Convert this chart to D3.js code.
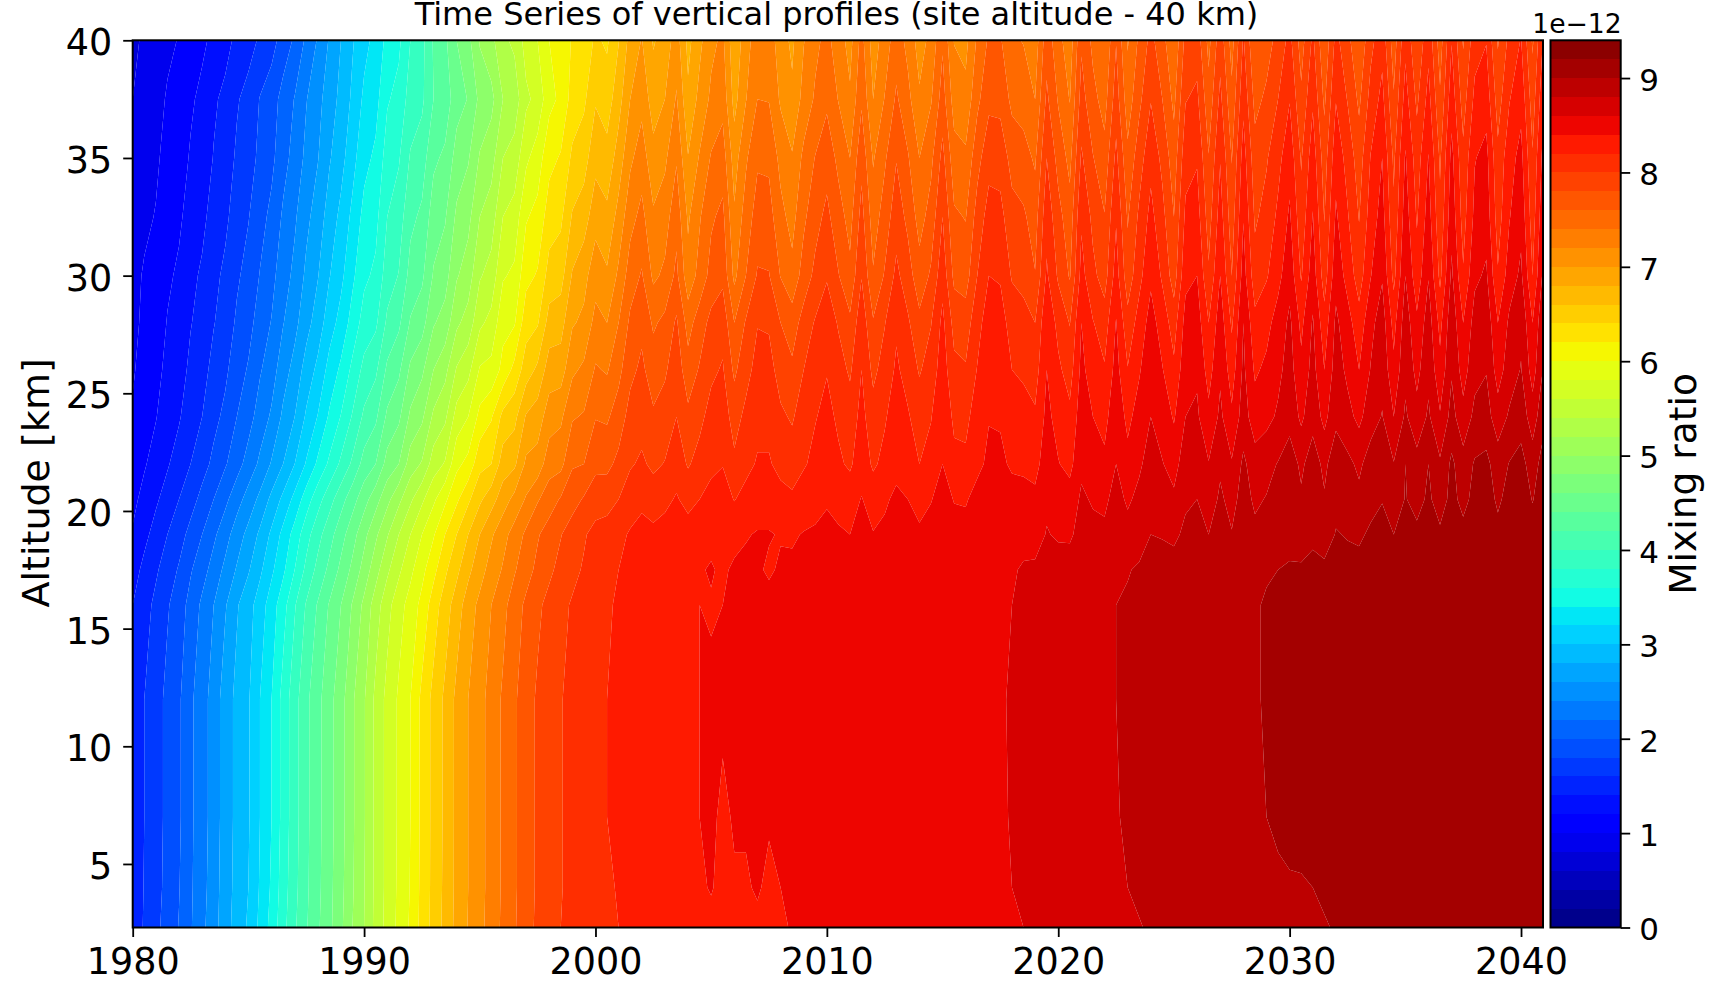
<!DOCTYPE html>
<html><head><meta charset="utf-8"><title>Time Series of vertical profiles</title>
<script src="https://cdnjs.cloudflare.com/ajax/libs/d3/7.8.5/d3.min.js"></script>
<style>html,body{margin:0;padding:0;background:#fff}svg{display:block}text{font-family:"DejaVu Sans";fill:#000}</style>
</head><body><svg id="c" width="1713" height="982"></svg>
<script>
// Mixing ratio, in units of 1e-14; one value per half year, 1980.0 to 2041.0
const altitudes=[2.3,4,7,12,16,17.5,19,20.5,22,24,26,28,30,32.5,35,37.5,40];
const at2p3=[147,162,175,188,201,218,235,252,272,288,303,325,347,373,397,418,437,455,476,500,
520,546,567,585,603,627,647,666,686,701,714,729,744,758,772,784,793,800,805,810,
814,817,820,823,826,828,830,832,833,834,836,835,836,837,838,837,838,841,842,843,
843,844,845,845,846,847,847,848,848,849,850,851,852,853,854,855,857,860,862,864,
866,868,870,872,874,876,877,879,882,885,887,888,889,890,892,893,894,895,896,897,
898,899,899,899,901,903,904,904,905,905,906,906,907,907,908,908,909,909,910,910,
911,912,912];
const at4=[146,161,173,186,199,217,233,250,271,286,300,322,343,370,394,416,435,454,474,498,
519,545,566,584,601,626,646,665,685,700,713,728,743,757,771,783,792,799,805,810,
814,818,821,824,827,830,832,834,836,838,841,836,839,839,841,838,840,841,843,844,
845,846,847,848,849,850,851,852,853,853,854,855,855,856,857,858,860,862,864,866,
867,869,871,873,875,877,880,883,885,887,888,889,890,892,893,894,895,896,898,899,
899,899,900,902,903,904,904,905,905,906,906,907,907,908,908,909,909,910,910,911,
911,912,912];
const at7=[145,160,172,185,197,216,232,248,270,285,298,320,340,367,392,415,434,453,472,497,
518,545,566,583,600,625,646,664,685,700,713,728,743,757,771,783,792,799,805,810,
815,820,823,826,829,832,834,836,838,840,842,838,841,841,842,841,842,843,844,845,
846,847,848,849,850,851,852,853,854,854,855,855,856,857,857,858,861,862,864,866,
868,870,872,874,876,879,882,885,887,888,889,890,892,893,894,895,897,899,900,901,
903,904,904,905,905,906,906,907,907,908,908,909,909,910,910,911,911,912,912,913,
913,914,914];
const at12=[145,160,172,185,197,216,232,248,270,285,298,320,340,367,392,415,434,453,472,497,
518,545,566,583,600,625,646,664,685,700,713,728,743,757,771,783,792,799,805,810,
815,820,823,826,829,832,834,836,838,840,842,842,843,844,845,845,846,846,847,848,
849,849,850,851,851,852,853,853,854,854,855,855,856,857,857,859,861,862,864,866,
868,870,872,874,877,880,883,885,887,888,889,890,892,893,894,895,897,899,901,902,
903,904,904,905,905,906,906,907,907,908,908,909,909,910,910,911,911,912,912,913,
913,914,914];
const at16=[140,152,165,178,190,207,224,240,258,278,292,310,330,352,378,402,422,442,460,482,
505,530,553,572,588,606,630,650,670,690,705,720,734,750,764,776,786,795,802,808,
813,818,822,825,828,831,834,836,838,840,839,840,841,843,844,845,846,846,847,848,
849,849,850,851,851,852,852,853,854,854,855,855,856,856,857,858,860,862,864,866,
868,870,872,874,877,880,882,884,886,888,889,890,892,893,894,895,897,899,901,902,
903,904,904,905,905,906,906,907,907,908,908,909,909,910,910,911,911,912,912,913,
913,914,914];
const at17p5=[132,145,157,170,182,198,212,228,245,262,278,296,316,336,360,385,406,425,445,465,
488,512,536,556,575,594,614,636,655,675,692,708,722,738,752,765,776,786,795,802,
810,815,820,824,827,830,833,835,838,839,841,838,842,843,842,838,842,843,845,846,
847,847,848,849,850,850,851,852,852,853,854,854,855,855,856,857,858,862,863,865,
867,869,871,873,875,877,879,882,885,886,888,889,890,892,893,894,896,897,899,900,
902,903,904,904,905,905,906,906,907,907,908,908,909,909,910,910,911,911,912,912,
913,913,914];
const at19=[122,135,147,160,172,186,200,216,232,250,266,284,304,326,348,372,393,412,432,452,
474,496,518,540,560,580,598,620,640,660,680,697,713,728,744,758,769,779,790,798,
806,809,815,822,826,825,828,833,830,834,837,837,836,839,841,841,839,838,841,842,
845,842,840,847,841,844,849,846,843,847,853,847,847,852,856,857,854,854,853,861,
858,857,867,865,864,873,867,873,880,879,876,884,886,880,887,881,890,884,886,890,
894,889,897,891,901,899,897,903,907,900,909,904,910,903,911,905,910,913,905,911,
913,908,916];
const at20p5=[115,126,137,148,160,172,186,200,215,232,248,265,285,305,326,350,372,392,412,432,
452,472,494,515,536,556,576,596,616,636,656,672,690,706,722,738,750,762,772,782,
791,792,800,810,816,810,815,822,813,820,827,830,819,827,833,833,827,824,830,835,
838,835,831,841,831,837,844,840,834,839,848,839,838,847,852,853,848,847,845,857,
852,849,863,858,856,867,857,865,872,869,864,877,880,871,883,874,887,877,881,886,
891,883,893,882,895,890,885,894,899,888,901,894,903,892,905,895,905,908,897,906,
910,899,912];
const at22=[108,118,128,138,149,160,172,185,198,212,228,244,262,280,300,322,344,364,384,404,
428,440,468,480,510,522,550,562,595,606,634,640,670,676,704,708,732,734,758,760,
775,775,785,798,803,796,801,811,798,807,815,819,804,814,822,822,814,809,818,825,
830,823,817,831,817,825,834,828,820,827,840,825,824,835,844,844,837,836,833,851,
841,834,856,848,844,860,846,857,868,861,852,871,874,861,877,862,884,869,874,881,
890,876,890,875,892,885,876,889,898,881,900,887,900,883,904,888,902,905,890,901,
907,890,910];
const at24=[102,112,119,131,138,151,160,174,185,200,212,229,243,264,280,303,321,343,361,382,
404,416,444,456,484,496,524,536,568,580,606,618,646,654,682,690,710,716,738,742,
759,757,770,787,793,783,789,800,785,795,807,810,792,805,814,814,803,798,809,819,
825,817,809,826,808,818,829,822,811,819,835,816,815,829,839,838,829,827,823,845,
833,825,850,840,834,853,835,848,860,851,838,860,863,845,864,844,869,849,854,863,
873,856,873,854,875,866,855,871,881,860,883,867,883,862,887,867,885,888,869,883,
891,870,895];
const at26=[98,107,114,125,132,144,153,166,176,191,202,218,231,251,267,288,305,327,344,365,
386,396,424,436,464,476,500,514,542,554,582,586,606,626,650,664,690,690,716,724,
742,738,754,775,784,770,777,792,768,782,796,802,776,793,807,806,793,784,800,812,
819,808,797,820,795,808,823,813,798,809,830,805,802,821,834,833,820,817,811,840,
824,811,845,830,822,847,821,838,854,841,824,853,857,832,857,830,864,837,844,855,
868,845,867,840,869,856,840,861,874,845,875,854,875,846,878,851,874,879,851,870,
881,851,884];
const at28=[95,104,110,121,127,139,147,159,169,183,193,209,221,239,254,273,289,311,327,348,
368,376,404,416,442,452,478,488,516,528,556,566,594,598,632,638,668,672,698,704,
727,720,740,764,775,757,765,783,752,770,786,793,760,782,799,798,780,770,788,802,
812,798,784,813,782,799,817,803,785,799,825,793,790,813,830,828,812,808,800,836,
814,799,840,821,810,841,807,828,848,831,811,847,850,820,851,817,860,826,834,848,
864,835,862,828,864,848,828,854,870,833,871,844,870,834,874,840,868,874,840,864,
876,840,880];
const at30=[94,102,107,117,123,135,143,155,164,177,187,201,214,231,245,264,279,299,315,336,
356,364,390,401,427,436,462,472,498,510,538,548,578,584,614,622,648,652,682,694,
711,703,724,750,762,736,744,765,727,747,767,775,735,760,782,781,759,746,769,785,
798,781,765,799,762,782,805,789,768,783,813,775,771,800,820,818,798,793,781,823,
797,778,827,805,791,829,788,814,836,817,790,835,840,803,840,800,849,808,818,834,
853,818,851,810,853,833,810,839,858,814,860,828,859,815,864,822,856,863,822,850,
864,820,869];
const at32p5=[88,96,101,111,117,127,135,148,156,169,179,193,205,223,237,255,269,289,305,325,
346,354,380,390,415,424,450,458,484,494,520,530,560,568,598,606,630,636,662,670,
693,685,707,733,746,723,731,753,717,738,757,765,723,749,769,768,746,733,756,773,
785,768,753,787,750,769,791,775,752,768,800,763,759,788,808,806,787,783,771,813,
787,768,817,795,781,818,778,804,826,806,780,824,829,791,829,789,839,797,807,824,
843,807,841,799,843,822,799,829,848,804,850,818,849,805,853,812,845,852,811,839,
854,810,859];
const at35=[84,92,97,106,111,122,129,141,150,163,171,185,195,213,227,245,259,278,293,313,
334,344,369,378,402,410,436,444,468,478,502,512,540,548,576,590,614,622,644,652,
673,667,689,716,730,707,716,738,701,722,742,750,711,737,757,756,734,722,745,761,
772,755,740,774,738,757,779,762,740,755,786,748,744,773,793,792,773,768,757,800,
773,754,803,781,767,805,765,791,814,795,769,813,818,781,819,779,829,788,798,814,
833,798,831,790,833,813,790,821,840,796,842,810,841,797,846,805,839,846,805,833,
846,802,851];
const at37p5=[80,88,93,102,107,117,125,137,145,158,167,181,191,207,221,239,253,271,285,304,
324,333,358,366,389,396,420,428,452,461,485,494,520,529,556,566,594,604,628,636,
658,650,672,700,714,690,700,722,684,706,724,733,693,719,740,739,717,704,727,743,
756,739,723,757,720,741,763,746,723,738,769,731,726,755,775,774,755,751,740,784,
758,739,788,766,752,790,749,775,799,780,755,799,804,767,805,765,815,774,784,800,
819,784,817,776,819,799,776,807,826,782,828,796,827,783,832,791,825,832,791,819,
834,790,839];
const at40=[76,83,89,96,101,110,116,125,133,145,152,163,172,189,203,224,242,262,280,298,
314,326,346,356,380,394,422,436,460,474,502,514,536,544,568,580,600,606,622,628,
643,637,659,687,701,678,688,710,674,695,715,724,685,711,732,731,709,696,719,735,
746,729,713,747,710,729,751,734,711,726,757,719,714,743,763,762,743,739,728,772,
747,728,777,755,741,779,738,764,786,767,742,786,791,754,792,752,802,761,771,787,
806,771,804,763,806,786,763,794,813,769,815,783,814,770,819,778,812,819,778,806,
821,777,826];
const profileRows=[at2p3,at4,at7,at12,at16,at17p5,at19,at20p5,at22,at24,at26,at28,at30,at32p5,at35,at37p5,at40];
const yearStart=1980, yearEnd=2041, yearAxisEnd=2040.95, altMin=2.3, altMax=40;
const xTicks=[1980,1990,2000,2010,2020,2030,2040];
const yTicks=[5,10,15,20,25,30,35,40];
const barTicks=[0,1,2,3,4,5,6,7,8,9];
const levels=d3.range(0,48).map(i=>i*20);          // 0 .. 940 (1e-14), every 0.2e-12
const titleText="Time Series of vertical profiles (site altitude - 40 km)";

const L=132.7,R=1543,T=40.3,B=927.5, CL=1550.5,CR=1620.7;
const svg=d3.select("#c");
const x=d3.scaleLinear([yearStart,yearAxisEnd],[L,R]);
const y=d3.scaleLinear([altMin,altMax],[B,T]);
const nx=profileRows[0].length, ny=profileRows.length;
const xFromCell=d3.scaleLinear([0.5,nx-0.5],[yearStart,yearEnd]).clamp(true);
const yFromCell=d3.scaleLinear(altitudes.map((_,i)=>i+0.5),altitudes).clamp(true);
// matplotlib "jet"
const jr=d3.scaleLinear([0,.35,.66,.89,1],[0,0,1,1,.5]);
const jg=d3.scaleLinear([0,.125,.375,.64,.91,1],[0,0,1,1,0,0]);
const jb=d3.scaleLinear([0,.11,.34,.65,1],[.5,1,1,0,0]);
const norm=d3.scaleLinear([levels[0],levels[levels.length-1]],[0,1]);
const jet=v=>{const t=norm(v);return d3.rgb(jr(t)*255,jg(t)*255,jb(t)*255).formatRgb();};

const values=profileRows.flat();
const contour=d3.contours().size([nx,ny]).smooth(true);
const proj=d3.geoTransform({point(a,b){this.stream.point(x(xFromCell(a)),y(yFromCell(b)));}});
const path=d3.geoPath(proj);
svg.append("defs").append("clipPath").attr("id","plot").append("rect")
  .attr("x",L).attr("y",T).attr("width",R-L).attr("height",B-T);
const bands=d3.pairs(levels);
svg.append("g").attr("clip-path","url(#plot)").selectAll("path").data(bands).join("path")
  .attr("fill-rule","evenodd")
  .attr("fill",d=>jet((d[0]+d[1])/2))
  .attr("d",d=>(path(contour.contour(values,d[0]))||"")+(path(contour.contour(values,d[1]))||""));

// axes
const style=(g,fs)=>{g.attr("font-family",null).attr("font-size",null);
  g.selectAll("text").style("font-family",'"DejaVu Sans"').style("font-size",fs+"px");
  g.selectAll("line").attr("stroke","#000").attr("stroke-width",1.8);
  g.select(".domain").remove();};
svg.append("g").attr("transform",`translate(0,${B})`)
  .call(d3.axisBottom(x).tickValues(xTicks).tickFormat(d3.format("d")).tickSize(9.5).tickPadding(11))
  .call(style,36.5);
svg.append("g").attr("transform",`translate(${L},0)`)
  .call(d3.axisLeft(y).tickValues(yTicks).tickFormat(d3.format("d")).tickSize(9.5).tickPadding(11))
  .call(style,36.5).selectAll("text").attr("dy","0.40em");
svg.append("rect").attr("x",L).attr("y",T).attr("width",R-L).attr("height",B-T)
  .attr("fill","none").attr("stroke","#000").attr("stroke-width",2);

// colour bar
const barY=d3.scaleLinear([levels[0]/100,levels[levels.length-1]/100],[B,T]);
svg.append("g").attr("shape-rendering","crispEdges").selectAll("rect").data(bands).join("rect")
  .attr("x",CL).attr("width",CR-CL)
  .attr("y",d=>barY(d[1]/100)).attr("height",d=>barY(d[0]/100)-barY(d[1]/100))
  .attr("fill",d=>jet((d[0]+d[1])/2));
svg.append("rect").attr("x",CL).attr("y",T).attr("width",CR-CL).attr("height",B-T)
  .attr("fill","none").attr("stroke","#000").attr("stroke-width",2);
svg.append("g").attr("transform",`translate(${CR},0)`)
  .call(d3.axisRight(barY).tickValues(barTicks).tickFormat(d3.format("d")).tickSize(9.5).tickPadding(9))
  .call(style,31).selectAll("text").attr("dy","0.40em");

// text
svg.append("text").attr("x",836.5).attr("y",25).attr("text-anchor","middle").attr("font-size",32).text(titleText);
svg.append("text").attr("x",CR+1).attr("y",32.7).attr("text-anchor","end").attr("font-size",26.6).text("1e\u221212");
svg.append("text").attr("transform",`translate(49,${(T+B)/2-1}) rotate(-90)`).attr("text-anchor","middle").attr("font-size",38).text("Altitude [km]");
svg.append("text").attr("transform",`translate(1696,${(T+B)/2}) rotate(-90)`).attr("text-anchor","middle").attr("font-size",37.6).text("Mixing ratio");
</script></body></html>
